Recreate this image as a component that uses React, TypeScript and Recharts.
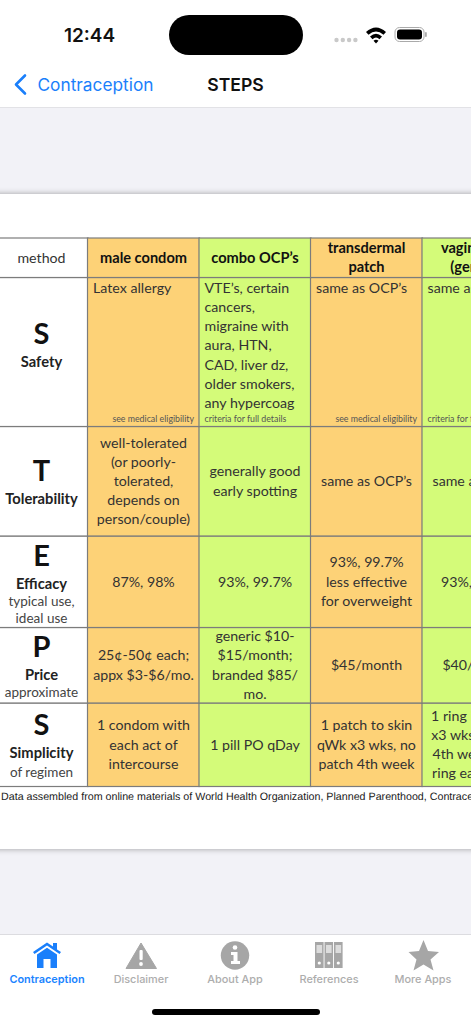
import React from 'react';
import { BarChart, Bar, XAxis, YAxis } from 'recharts';

const methods = ['method', 'male condom', 'combo OCP’s', 'transdermal patch', 'vaginal ring'];
const rowNames = ['method', 'Safety', 'Tolerability', 'Efficacy', 'Price', 'Simplicity'];
const rowSpans = [39.5, 149, 109.5, 91.5, 75.5, 83.5];

const headerCells = [['method'], ['male condom'], ['combo OCP’s'], ['transdermal', 'patch'], ['vaginal ring', '(generic)']];
const safetyCells = [
  ['S', 'Safety'],
  ['Latex allergy'],
  ['VTE’s, certain', 'cancers,', 'migraine with', 'aura, HTN,', 'CAD, liver dz,', 'older smokers,', 'any hypercoag'],
  ['same as OCP’s'],
  ['same as OCP’s'],
];
const safetyNotes = ['', 'see medical eligibility', 'criteria for full details', 'see medical eligibility', 'criteria for full details'];
const tolerabilityCells = [
  ['T', 'Tolerability'],
  ['well-tolerated', '(or poorly-', 'tolerated,', 'depends on', 'person/couple)'],
  ['generally good', 'early spotting'],
  ['same as OCP’s'],
  ['same as OCP’s'],
];
const efficacyCells = [
  ['E', 'Efficacy', 'typical use,', 'ideal use'],
  ['87%, 98%'],
  ['93%, 99.7%'],
  ['93%, 99.7%', 'less effective', 'for overweight'],
  ['93%, 99.7%'],
];
const priceCells = [
  ['P', 'Price', 'approximate'],
  ['25¢-50¢ each;', 'appx $3-$6/mo.'],
  ['generic $10-', '$15/month;', 'branded $85/', 'mo.'],
  ['$45/month'],
  ['$40/month'],
];
const simplicityCells = [
  ['S', 'Simplicity', 'of regimen'],
  ['1 condom with', 'each act of', 'intercourse'],
  ['1 pill PO qDay'],
  ['1 patch to skin', 'qWk x3 wks, no', 'patch 4th week'],
  ['1 ring in vagina', 'x3 wks, no ring', '4th week, new', 'ring each cycle'],
];
const footnote = 'Data assembled from online materials of World Health Organization, Planned Parenthood, Contraceptive Technology';
const tabLabels = ['Contraception', 'Disclaimer', 'About App', 'References', 'More Apps'];

const rows = [headerCells, safetyCells, tolerabilityCells, efficacyCells, priceCells, simplicityCells];
const rowKeys = rowNames.map((_, r) => `row${r}`);
const table = methods.map((method) => {
  const entry: Record<string, string | number> = { method };
  rowKeys.forEach((key, r) => { entry[key] = rowSpans[r]; });
  return entry;
});

const BODY_FONT = 'Lato, sans-serif';
const UI_FONT = 'Inter, Roboto, sans-serif';
const ORANGE = '#fdd277';
const GREEN = '#d4fb79';
const GRID = '#7c7c7c';
const columnFills = ['#ffffff', ORANGE, GREEN, ORANGE, GREEN];
const LINE = 19.2;
// where the big letter sits inside each first-column row
const letterOffsets = [0, 56.5, 44.5, 20, 19.5, 22];

function RowHead({ x, y, row, lines }: any) {
  if (row === 0) {
    return <text x={x} y={y + 19.3} textAnchor="middle" dominantBaseline="central" fontSize={14.2} fill="#333" fontFamily={BODY_FONT}>{lines[0]}</text>;
  }
  const top = y + letterOffsets[row];
  return (
    <g textAnchor="middle" fontFamily={BODY_FONT}>
      <text x={x} y={top - 1.5} dominantBaseline="central" fontSize={29} fontWeight={700} fill="#111">{lines[0]}</text>
      <text x={x} y={top + 27} dominantBaseline="central" fontSize={14.7} fontWeight={700} fill="#222">{lines[1]}</text>
      {lines.slice(2).map((l: string, i: number) => (
        <text key={i} x={x} y={top + (row === 5 ? 47 : 45) + i * 17} dominantBaseline="central" fontSize={13.5} fill="#444">{l}</text>
      ))}
    </g>
  );
}

function TableCell(props: any) {
  const { x, y, width, height, index, row } = props;
  const lines: string[] = rows[row][index];
  const isHead = row === 0 && index > 0;
  let body;
  if (index === 0) {
    // the first column is narrower than the others, the rest runs off the left edge
    body = <RowHead x={x + width - 46.5} y={y} row={row} lines={lines} />;
  } else if (row === 1) {
    body = (
      <g fontFamily={BODY_FONT}>
        {lines.map((l, i) => (
          <text key={i} x={x + 5.5} y={y + 9.8 + i * LINE} dominantBaseline="central" fontSize={14.2} fill="#333">{l}</text>
        ))}
        <text
          x={index % 2 === 1 ? x + width - 5.5 : x + 5.5}
          y={y + 140.8}
          textAnchor={index % 2 === 1 ? 'end' : 'start'}
          dominantBaseline="central"
          fontSize={8.8}
          fill="#555"
        >
          {safetyNotes[index]}
        </text>
      </g>
    );
  } else {
    const start = y + height / 2 - ((lines.length - 1) * LINE) / 2 - 0.7;
    body = lines.map((l, i) => (
      <text
        key={i}
        x={x + width / 2}
        y={start + i * LINE}
        textAnchor="middle"
        dominantBaseline="central"
        fontFamily={BODY_FONT}
        fontSize={isHead ? 14.6 : 14.2}
        fontWeight={isHead ? 700 : 400}
        fill={isHead ? '#111' : '#333'}
      >
        {l}
      </text>
    ));
  }
  return (
    <g>
      <rect x={x} y={y} width={width} height={height} fill={columnFills[index]} stroke={GRID} strokeWidth={1.2} />
      {body}
    </g>
  );
}

function TableChart() {
  // bars stack from the bottom up, so the last row goes first
  const order = rowKeys.map((_, r) => rowKeys.length - 1 - r);
  const total = rowSpans.reduce((a, b) => a + b, 0);
  return (
    <BarChart
      width={559.5}
      height={total + 2}
      data={table}
      margin={{ top: 1, right: 1, bottom: 1, left: 1 }}
      barCategoryGap={0}
      barGap={0}
    >
      <XAxis dataKey="method" hide padding={{ left: 0, right: 0 }} />
      <YAxis hide domain={[0, total]} />
      {order.map((r) => (
        <Bar
          key={rowKeys[r]}
          dataKey={rowKeys[r]}
          stackId="cells"
          isAnimationActive={false}
          shape={(p: any) => <TableCell {...p} row={r} />}
        />
      ))}
    </BarChart>
  );
}

function StatusBar() {
  return (
    <>
      <div style={{ position: 'absolute', left: 39.5, width: 100, top: 24, textAlign: 'center', font: `600 19px ${UI_FONT}`, color: '#111' }}>12:44</div>
      <div style={{ position: 'absolute', left: 168.5, top: 15, width: 134, height: 39.5, borderRadius: 20, background: '#000' }} />
      <svg style={{ position: 'absolute', left: 330, top: 22 }} width={105} height={26}>
        {[0, 1, 2, 3].map((i) => <circle key={i} cx={6.5 + i * 6.3} cy={18} r={2.2} fill="#c9c9c9" />)}
        <path d="M36 10 Q46 1 56 10 L53.5 12.8 Q46 6 38.5 12.8 Z" fill="#000" />
        <path d="M40 14.5 Q46 9 52 14.5 L49.5 17.2 Q46 14 42.5 17.2 Z" fill="#000" />
        <path d="M43.5 18.8 Q46 16.5 48.5 18.8 L46 21.5 Z" fill="#000" />
        <rect x={65} y={5.5} width={29} height={14} rx={4.5} fill="none" stroke="#aaa" strokeWidth={1} />
        <rect x={67} y={7.5} width={25} height={10} rx={3} fill="#000" />
        <rect x={95} y={10} width={1.8} height={5} rx={0.9} fill="#aaa" />
      </svg>
    </>
  );
}

function NavBar() {
  return (
    <>
      <svg style={{ position: 'absolute', left: 12, top: 72 }} width={18} height={25}>
        <path d="M13 3.5 L4 12.5 L13 21.5" fill="none" stroke="#1a7ffb" strokeWidth={2.6} strokeLinecap="round" strokeLinejoin="round" />
      </svg>
      <div style={{ position: 'absolute', left: 37.5, top: 73.5, font: `400 17.3px ${UI_FONT}`, color: '#1a7ffb', whiteSpace: 'nowrap' }}>Contraception</div>
      <div style={{ position: 'absolute', left: 185.5, width: 100, top: 73.5, textAlign: 'center', font: `600 17.6px ${UI_FONT}`, color: '#111' }}>STEPS</div>
    </>
  );
}

function TabIcons() {
  const gray = '#a6a6a6';
  return (
    <svg style={{ position: 'absolute', left: 0, top: 935 }} width={471} height={40}>
      <path d="M33 17 L47 7.5 L53 11.5 L53 8 L57 8 L57 14.5 L61 17 L59.5 19 L47 10.5 L34.5 19 Z" fill="#1a7ffb" />
      <path d="M37 19.5 L47 12.8 L57 19.5 L57 33 L50.5 33 L50.5 24 L43.5 24 L43.5 33 L37 33 Z" fill="#1a7ffb" />
      <path d="M141 8 L156.5 33.5 L126 33.5 Z" fill={gray} stroke={gray} strokeWidth={1} strokeLinejoin="round" />
      <rect x={139.5} y={15} width={3.2} height={10} rx={1} fill="#fff" />
      <circle cx={141} cy={29} r={1.9} fill="#fff" />
      <circle cx={235} cy={20.5} r={14.2} fill={gray} />
      <circle cx={235} cy={12.5} r={2.3} fill="#fff" />
      <path d="M231 17 L237.5 17 L237.5 26 L240 26 L240 29 L231 29 L231 26 L233.5 26 L233.5 20 L231 20 Z" fill="#fff" />
      {[315, 324.5, 334].map((x) => (
        <g key={x}>
          <rect x={x} y={7} width={8.6} height={26} fill={gray} />
          <rect x={x + 1.5} y={10} width={5.6} height={8} fill="#dcdcdc" />
          <circle cx={x + 4.3} cy={28} r={1.6} fill="#fff" />
        </g>
      ))}
      <path d="M423.5 5 L428 16 L439 17 L430.5 24.5 L433.5 35.5 L423.5 29.5 L413.5 35.5 L416.5 24.5 L408.5 17 L419 16 Z" fill={gray} />
    </svg>
  );
}

export default function App() {
  return (
    <div style={{ position: 'absolute', left: 0, top: 0, width: 471, height: 1024, overflow: 'hidden', background: '#fff' }}>
      <StatusBar />
      <NavBar />
      <div style={{ position: 'absolute', left: 0, top: 107, width: 471, height: 828, background: '#f2f2f7', borderTop: '1.5px solid #e2e2e6', borderBottom: '1px solid #dcdce0', boxSizing: 'border-box' }} />
      <div style={{ position: 'absolute', left: -10, top: 194, width: 491, height: 655, background: '#fff', boxShadow: '0 0 6px rgba(0,0,0,0.35)' }} />
      <div style={{ position: 'absolute', left: -25.5, top: 237 }}>
        <TableChart />
      </div>
      <div style={{ position: 'absolute', left: 1, top: 790.5, font: '10.7px "Liberation Sans", Arial, sans-serif', textRendering: 'geometricPrecision', color: '#222', whiteSpace: 'nowrap' }}>{footnote}</div>
      <TabIcons />
      {tabLabels.map((label, i) => (
        <div
          key={label}
          style={{
            position: 'absolute',
            left: i * 94,
            width: 94,
            top: 972,
            textAlign: 'center',
            font: `${i === 0 ? 600 : 500} 10.9px ${UI_FONT}`,
            color: i === 0 ? '#1a84ff' : '#adadad',
          }}
        >
          {label}
        </div>
      ))}
      <div style={{ position: 'absolute', left: 152, top: 1009, width: 167.5, height: 6, borderRadius: 3, background: '#000' }} />
    </div>
  );
}
